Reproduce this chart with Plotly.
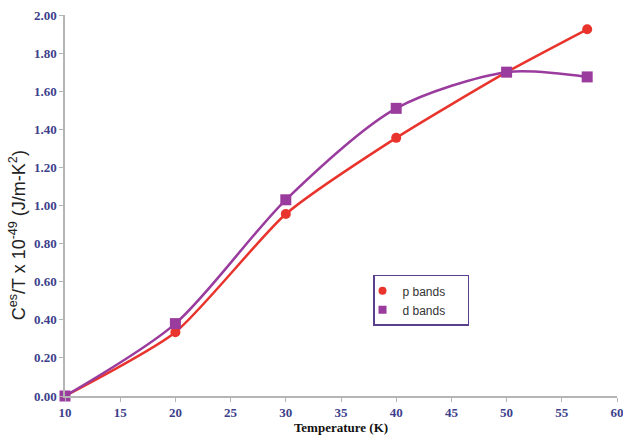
import plotly.graph_objects as go

temps = [10, 20, 30, 40, 50, 57.3]
p_bands = [0.0, 0.335, 0.955, 1.355, 1.70, 1.925]
d_bands = [0.0, 0.38, 1.03, 1.51, 1.70, 1.675]
x_ticks = [10, 15, 20, 25, 30, 35, 40, 45, 50, 55, 60]
y_ticks = [0.0, 0.2, 0.4, 0.6, 0.8, 1.0, 1.2, 1.4, 1.6, 1.8, 2.0]
series_names = ["p bands", "d bands"]

RED = "#e8342c"
PURPLE = "#9a3b9e"
PAD = "\u00a0" * 5

fig = go.Figure()
fig.add_trace(go.Scatter(x=temps, y=p_bands, name=series_names[0], mode="lines+markers", showlegend=False,
                         line=dict(color=RED, width=2.5, shape="spline", smoothing=0.6),
                         marker=dict(symbol="circle", size=10, color=RED), cliponaxis=False))
fig.add_trace(go.Scatter(x=temps, y=d_bands, name=series_names[1], mode="lines+markers", showlegend=False,
                         line=dict(color=PURPLE, width=2.5, shape="spline", smoothing=0.8),
                         marker=dict(symbol="square", size=11, color=PURPLE), cliponaxis=False))
# legend-only entries (markers only, as in the reference legend)
fig.add_trace(go.Scatter(x=[None], y=[None], name=series_names[0] + PAD, mode="markers",
                         marker=dict(symbol="circle", size=8, color=RED)))
fig.add_trace(go.Scatter(x=[None], y=[None], name=series_names[1] + PAD, mode="markers",
                         marker=dict(symbol="square", size=8, color=PURPLE)))

tickfont = dict(family="Liberation Serif", size=13, color="#3d3f8c", weight="bold")
fig.update_layout(
    width=623, height=440,
    margin=dict(l=65, r=6, t=15, b=44),
    paper_bgcolor="white", plot_bgcolor="white",
    showlegend=True,
    legend=dict(x=0.558, y=0.318, xanchor="left", yanchor="top",
                bordercolor="#5a3f8f", borderwidth=1.5, bgcolor="white",
                font=dict(family="Liberation Sans", size=12, color="#333333"),
                itemwidth=30, tracegroupgap=2, indentation=-12),
    xaxis=dict(range=[10, 60], tickvals=x_ticks, showgrid=False, zeroline=False,
               showline=True, linecolor="#b5b5b5", linewidth=1.5,
               ticks="outside", ticklen=4, tickcolor="#b5b5b5",
               tickfont=tickfont, automargin=False, ticklabeloverflow="allow",
               title=dict(text="Temperature (K)", standoff=4,
                          font=dict(family="Liberation Serif", size=13, color="#111111", weight="bold"))),
    yaxis=dict(range=[0, 2.0], tickvals=y_ticks, tickformat=".2f", showgrid=False, zeroline=False,
               showline=True, linecolor="#b5b5b5", linewidth=1.5,
               ticks="outside", ticklen=4, tickcolor="#b5b5b5",
               tickfont=tickfont, automargin=False, ticklabeloverflow="allow"),
    annotations=[dict(text="C<sup>es</sup>/T x 10<sup>-49</sup> (J/m-K<sup>2</sup>)",
                      xref="paper", yref="paper", x=-0.0845, y=0.4226,
                      xanchor="center", yanchor="middle", textangle=-90, showarrow=False,
                      font=dict(family="Liberation Sans", size=18, color="#222222"))],
)
# remove the default page margin so the figure fills the window exactly
fig.write_html("out.html", config={"displayModeBar": False},
               post_script="document.body.style.margin='0';document.body.style.overflow='hidden';")
